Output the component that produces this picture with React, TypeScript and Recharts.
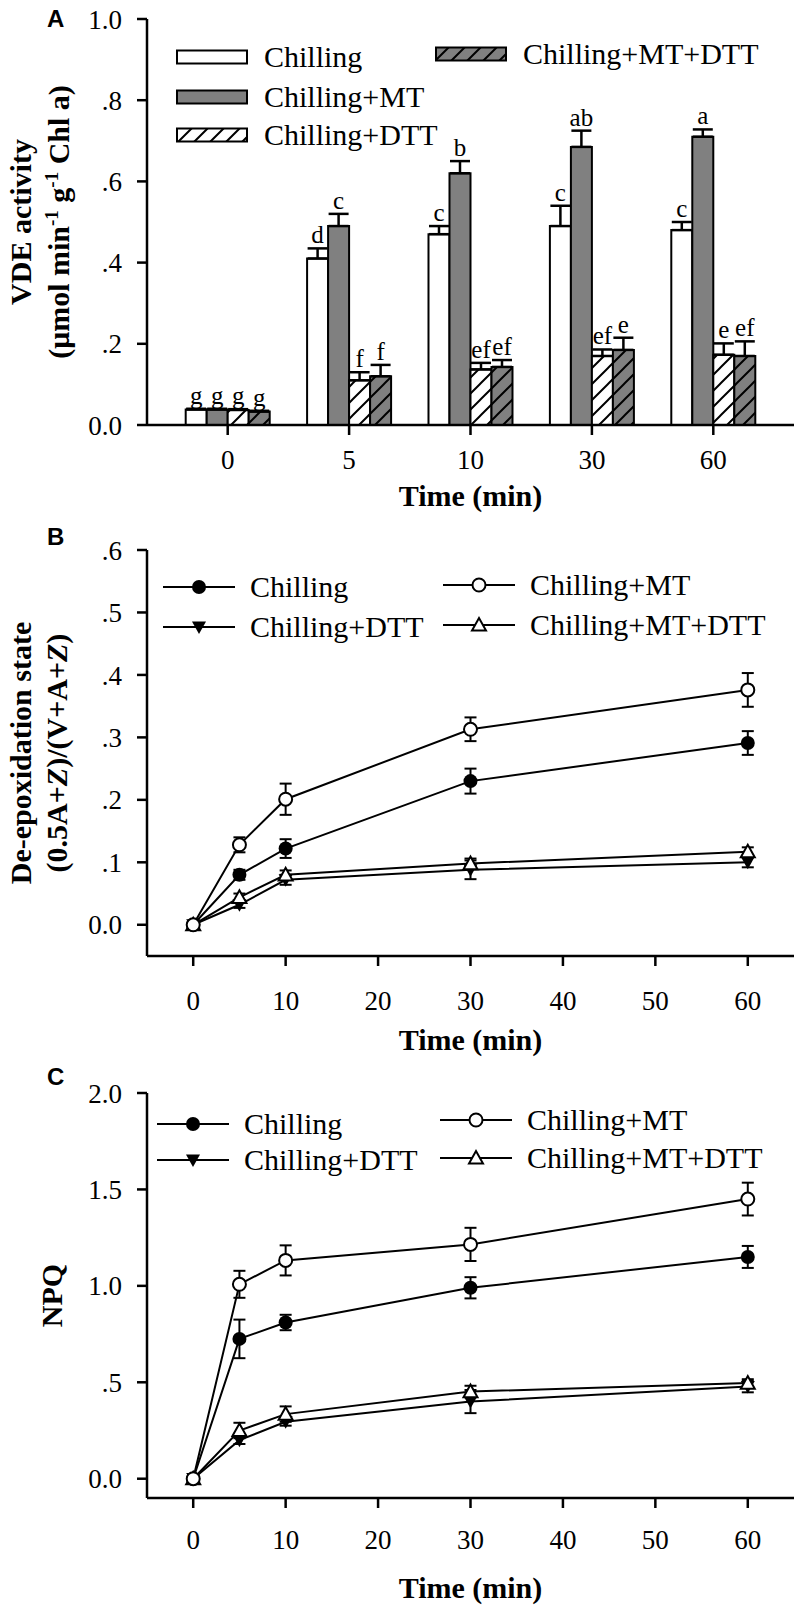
import React from "react";
import { BarChart, Bar, LineChart, Line, XAxis, YAxis, ErrorBar, LabelList } from "recharts";

const SERIF = '"Liberation Serif", "Times New Roman", Times, serif';
const SANS = '"Liberation Sans", Arial, Helvetica, sans-serif';
const GRAY = "#808080";
const AXIS = { stroke: "#000", strokeWidth: 2.5 };
const TICK = { fill: "#000", fontSize: 27, fontFamily: SERIF };

// ---- Panel A: VDE activity (bars) ----
const vdeTimes = ["0", "5", "10", "30", "60"];
const vdeChilling = [0.038, 0.41, 0.47, 0.49, 0.48];
const vdeChillingErr = [0.002, 0.025, 0.02, 0.05, 0.02];
const vdeMT = [0.038, 0.49, 0.62, 0.685, 0.71];
const vdeMTErr = [0.002, 0.03, 0.03, 0.04, 0.018];
const vdeDTT = [0.037, 0.11, 0.137, 0.17, 0.173];
const vdeDTTErr = [0.002, 0.02, 0.016, 0.016, 0.028];
const vdeMTDTT = [0.033, 0.12, 0.143, 0.185, 0.17];
const vdeMTDTTErr = [0.002, 0.028, 0.017, 0.03, 0.036];
const vdeChillingLetters = ["g", "d", "c", "c", "c"];
const vdeMTLetters = ["g", "c", "b", "ab", "a"];
const vdeDTTLetters = ["g", "f", "ef", "ef", "e"];
const vdeMTDTTLetters = ["g", "f", "ef", "e", "ef"];
const vdeTicks = [0, 0.2, 0.4, 0.6, 0.8, 1.0];

// ---- Panel B: de-epoxidation state ----
const timePoints = [0, 5, 10, 30, 60];
const desChilling = [0, 0.08, 0.122, 0.23, 0.291];
const desChillingErr = [0.003, 0.008, 0.015, 0.02, 0.019];
const desMT = [0, 0.128, 0.201, 0.313, 0.376];
const desMTErr = [0.003, 0.012, 0.025, 0.019, 0.027];
const desDTT = [0, 0.032, 0.072, 0.088, 0.1];
const desDTTErr = [0.003, 0.005, 0.008, 0.015, 0.008];
const desMTDTT = [0, 0.044, 0.08, 0.098, 0.117];
const desMTDTTErr = [0.003, 0.006, 0.007, 0.008, 0.007];
const desTicks = [0, 0.1, 0.2, 0.3, 0.4, 0.5, 0.6];

// ---- Panel C: NPQ ----
const npqChilling = [0, 0.725, 0.81, 0.99, 1.15];
const npqChillingErr = [0.01, 0.1, 0.04, 0.055, 0.057];
const npqMT = [0, 1.008, 1.132, 1.215, 1.45];
const npqMTErr = [0.01, 0.07, 0.078, 0.086, 0.085];
const npqDTT = [0, 0.2, 0.295, 0.4, 0.478];
const npqDTTErr = [0.01, 0.02, 0.02, 0.06, 0.03];
const npqMTDTT = [0, 0.25, 0.335, 0.452, 0.496];
const npqMTDTTErr = [0.01, 0.04, 0.04, 0.03, 0.02];
const npqTicks = [0, 0.5, 1, 1.5, 2];

const timeTicks = [0, 10, 20, 30, 40, 50, 60];

const vdeData = vdeTimes.map((t, i) => ({
  t,
  chilling: vdeChilling[i], chillingErr: [0, vdeChillingErr[i]], chillingTag: vdeChillingLetters[i],
  mt: vdeMT[i], mtErr: [0, vdeMTErr[i]], mtTag: vdeMTLetters[i],
  dtt: vdeDTT[i], dttErr: [0, vdeDTTErr[i]], dttTag: vdeDTTLetters[i],
  mtdtt: vdeMTDTT[i], mtdttErr: [0, vdeMTDTTErr[i]], mtdttTag: vdeMTDTTLetters[i],
}));

const desData = timePoints.map((t, i) => ({
  t,
  chilling: desChilling[i], chillingErr: desChillingErr[i],
  mt: desMT[i], mtErr: desMTErr[i],
  dtt: desDTT[i], dttErr: desDTTErr[i],
  mtdtt: desMTDTT[i], mtdttErr: desMTDTTErr[i],
}));

const npqData = timePoints.map((t, i) => ({
  t,
  chilling: npqChilling[i], chillingErr: npqChillingErr[i],
  mt: npqMT[i], mtErr: npqMTErr[i],
  dtt: npqDTT[i], dttErr: npqDTTErr[i],
  mtdtt: npqMTDTT[i], mtdttErr: npqMTDTTErr[i],
}));

const barSeries = [
  { key: "chilling", name: "Chilling", fill: "#ffffff", values: vdeChilling, errs: vdeChillingErr },
  { key: "mt", name: "Chilling+MT", fill: GRAY, values: vdeMT, errs: vdeMTErr },
  { key: "dtt", name: "Chilling+DTT", fill: "url(#hatchWhite)", values: vdeDTT, errs: vdeDTTErr },
  { key: "mtdtt", name: "Chilling+MT+DTT", fill: "url(#hatchGray)", values: vdeMTDTT, errs: vdeMTDTTErr },
];

type Shape = "circle" | "openCircle" | "downTri" | "upTri";

// drawn in this order so the circles sit on top
const lineSeries: { key: string; name: string; shape: Shape }[] = [
  { key: "dtt", name: "Chilling+DTT", shape: "downTri" },
  { key: "mtdtt", name: "Chilling+MT+DTT", shape: "upTri" },
  { key: "chilling", name: "Chilling", shape: "circle" },
  { key: "mt", name: "Chilling+MT", shape: "openCircle" },
];

// legend placement (page coordinates), keyed by series
const legendA: Record<string, { x: number; y: number }> = {
  chilling: { x: 177, y: 57 }, mt: { x: 177, y: 97 }, dtt: { x: 177, y: 135 }, mtdtt: { x: 436, y: 54 },
};
const legendB: Record<string, { x: number; y: number }> = {
  chilling: { x: 163, y: 587 }, mt: { x: 443, y: 585 }, dtt: { x: 163, y: 627 }, mtdtt: { x: 443, y: 625 },
};
const legendC: Record<string, { x: number; y: number }> = {
  chilling: { x: 157, y: 1124 }, mt: { x: 440, y: 1120 }, dtt: { x: 157, y: 1160 }, mtdtt: { x: 440, y: 1158 },
};

const fmtTick = (v: number) => {
  const s = v.toFixed(1);
  return v !== 0 && s.startsWith("0.") ? s.slice(1) : s;
};

function Marker({ cx, cy, shape, r = 7 }: { cx: number; cy: number; shape: Shape; r?: number }) {
  if (shape === "circle") return <circle cx={cx} cy={cy} r={r} fill="#000" />;
  if (shape === "openCircle") return <circle cx={cx} cy={cy} r={r - 0.5} fill="#fff" stroke="#000" strokeWidth={2} />;
  if (shape === "downTri")
    return <polygon points={`${cx - r},${cy - r * 0.8} ${cx + r},${cy - r * 0.8} ${cx},${cy + r}`} fill="#000" />;
  return (
    <polygon
      points={`${cx - r},${cy + r * 0.8} ${cx + r},${cy + r * 0.8} ${cx},${cy - r}`}
      fill="#fff" stroke="#000" strokeWidth={2} strokeLinejoin="miter"
    />
  );
}

function makeLetter(values: number[], errs: number[]) {
  return (props: any) => {
    const vb = props.viewBox && typeof props.viewBox.x === "number" ? props.viewBox : props;
    const { x, y, width, height } = vb;
    const i = props.index;
    const perUnit = values[i] ? Math.abs(height) / values[i] : 0;
    const top = Math.min(y, y + height);
    const capY = top - errs[i] * perUnit;
    return (
      <text key={`lt-${i}-${x}`} x={x + width / 2} y={capY - 5} textAnchor="middle" fontFamily={SERIF} fontSize={25} fill="#000">
        {props.value}
      </text>
    );
  };
}

function XTitle({ viewBox, below }: any) {
  const vb = viewBox || { x: 147, y: 0, width: 647 };
  return (
    <text x={vb.x + vb.width / 2} y={vb.y + below} textAnchor="middle" fontFamily={SERIF} fontWeight="bold" fontSize={30} fill="#000">
      Time (min)
    </text>
  );
}

function YTitle({ viewBox, children }: any) {
  const vb = viewBox || { y: 0, height: 400 };
  const cy = vb.y + vb.height / 2;
  return <g>{React.Children.map(children, (c: any) => React.cloneElement(c, { cy }))}</g>;
}

function RotLine({ cy = 0, x, children }: any) {
  return (
    <text transform={`translate(${x},${cy}) rotate(-90)`} textAnchor="middle" fontFamily={SERIF} fontWeight="bold" fontSize={30} fill="#000">
      {children}
    </text>
  );
}

function TimePanel({ data, top, height, plotTop, plotBottom, yDomain, yTicks, tickMargin, titleBelow, title }: any) {
  return (
    <div style={{ position: "absolute", left: 0, top, width: 800, height }}>
      <LineChart
        width={800}
        height={height}
        data={data}
        margin={{ top: plotTop, right: 6, bottom: height - plotBottom - 60, left: 87 }}
      >
        <XAxis
          dataKey="t" type="number" domain={[-5, 65]} ticks={timeTicks} height={60}
          tick={TICK} tickSize={10} tickMargin={tickMargin} tickLine={AXIS} axisLine={AXIS}
          label={<XTitle below={titleBelow} />}
        />
        <XAxis xAxisId="top" orientation="top" dataKey="t" type="number" domain={[-5, 65]} height={0} tick={false} tickLine={false} axisLine={AXIS} />
        <YAxis
          type="number" domain={yDomain} ticks={yTicks} width={60} tickFormatter={fmtTick}
          tick={TICK} tickSize={10} tickMargin={15} tickLine={AXIS} axisLine={AXIS}
          label={title}
        />
        <YAxis yAxisId="right" orientation="right" type="number" domain={yDomain} width={0} tick={false} tickLine={false} axisLine={AXIS} />
        {lineSeries.map((s) => (
          <Line
            key={s.key}
            dataKey={s.key}
            stroke="#000"
            strokeWidth={2}
            isAnimationActive={false}
            dot={(p: any) => <Marker key={`${s.key}-${p.index}`} cx={p.cx} cy={p.cy} shape={s.shape} />}
            activeDot={false}
          >
            <ErrorBar dataKey={`${s.key}Err`} direction="y" width={6} stroke="#000" strokeWidth={2} />
          </Line>
        ))}
      </LineChart>
    </div>
  );
}

function LineLegend({ pos }: { pos: Record<string, { x: number; y: number }> }) {
  return (
    <g>
      {lineSeries.map((s) => {
        const p = pos[s.key];
        return (
          <g key={s.key}>
            <line x1={p.x} y1={p.y} x2={p.x + 72} y2={p.y} stroke="#000" strokeWidth={2} />
            <Marker cx={p.x + 36} cy={p.y} shape={s.shape} />
            <text x={p.x + 87} y={p.y + 10} fontFamily={SERIF} fontSize={30} fill="#000">{s.name}</text>
          </g>
        );
      })}
    </g>
  );
}

export default function App() {
  return (
    <div style={{ position: "absolute", left: 0, top: 0, width: 800, height: 1611, background: "#fff", fontFamily: SERIF }}>
      {/* A */}
      <div style={{ position: "absolute", left: 0, top: 0, width: 800, height: 530 }}>
        <BarChart
          width={800}
          height={530}
          data={vdeData}
          margin={{ top: 19, right: 6, bottom: 55, left: 87 }}
          barCategoryGap="15.4%"
          barGap={0}
        >
          <defs>
            <pattern id="hatchWhite" patternUnits="userSpaceOnUse" width={16} height={16}>
              <rect width={16} height={16} fill="#fff" />
              <path d="M-4,4 L4,-4 M0,16 L16,0 M12,20 L20,12" stroke="#000" strokeWidth={2} />
            </pattern>
            <pattern id="hatchGray" patternUnits="userSpaceOnUse" width={16} height={16}>
              <rect width={16} height={16} fill={GRAY} />
              <path d="M-4,4 L4,-4 M0,16 L16,0 M12,20 L20,12" stroke="#000" strokeWidth={2} />
            </pattern>
          </defs>
          <XAxis
            dataKey="t" type="category" padding={{ left: 20, right: 20 }} height={50} interval={0}
            tick={TICK} tickSize={10} tickMargin={15} tickLine={AXIS} axisLine={AXIS}
            label={<XTitle below={81} />}
          />
          <XAxis xAxisId="top" orientation="top" dataKey="t" height={0} tick={false} tickLine={false} axisLine={AXIS} />
          <YAxis
            type="number" domain={[0, 1]} ticks={vdeTicks} width={60} tickFormatter={fmtTick}
            tick={TICK} tickSize={10} tickMargin={15} tickLine={AXIS} axisLine={AXIS}
            label={
              <YTitle>
                <RotLine x={31}>VDE activity</RotLine>
                <RotLine x={69}>
                  (μmol min<tspan dy={-11} fontSize={19}>-1</tspan>
                  <tspan dy={11}> g</tspan>
                  <tspan dy={-11} fontSize={19}>-1</tspan>
                  <tspan dy={11}> Chl a)</tspan>
                </RotLine>
              </YTitle>
            }
          />
          <YAxis yAxisId="right" orientation="right" type="number" domain={[0, 1]} width={0} tick={false} tickLine={false} axisLine={AXIS} />
          {barSeries.map((s) => (
            <Bar key={s.key} dataKey={s.key} fill={s.fill} stroke="#000" strokeWidth={2} isAnimationActive={false}>
              <ErrorBar dataKey={`${s.key}Err`} direction="y" width={10} stroke="#000" strokeWidth={2.5} />
              <LabelList dataKey={`${s.key}Tag`} content={makeLetter(s.values, s.errs)} />
            </Bar>
          ))}
        </BarChart>
      </div>

      {/* B */}
      <TimePanel
        data={desData} top={530} height={540} plotTop={20} plotBottom={426}
        yDomain={[-0.05, 0.6]} yTicks={desTicks} tickMargin={25} titleBelow={94}
        title={
          <YTitle>
            <RotLine x={31}>De-epoxidation state</RotLine>
            <RotLine x={67}>
              (0.5A+<tspan fontStyle="italic">Z</tspan>)/(V+A+<tspan fontStyle="italic">Z</tspan>)
            </RotLine>
          </YTitle>
        }
      />

      {/* C */}
      <TimePanel
        data={npqData} top={1070} height={541} plotTop={23} plotBottom={428}
        yDomain={[-0.1, 2]} yTicks={npqTicks} tickMargin={22} titleBelow={100}
        title={
          <YTitle>
            <RotLine x={62}>NPQ</RotLine>
          </YTitle>
        }
      />

      {/* panel letters and legends */}
      <svg width={800} height={1611} style={{ position: "absolute", left: 0, top: 0, pointerEvents: "none" }}>
        <text x={47} y={27} fontFamily={SANS} fontWeight="bold" fontSize={24}>A</text>
        <text x={47} y={545} fontFamily={SANS} fontWeight="bold" fontSize={24}>B</text>
        <text x={47} y={1085} fontFamily={SANS} fontWeight="bold" fontSize={24}>C</text>
        {barSeries.map((s) => {
          const p = legendA[s.key];
          return (
            <g key={s.key}>
              <rect x={p.x} y={p.y - 6.5} width={70} height={13} fill={s.fill} stroke="#000" strokeWidth={2} />
              <text x={p.x + 87} y={p.y + 10} fontFamily={SERIF} fontSize={30} fill="#000">{s.name}</text>
            </g>
          );
        })}
        <LineLegend pos={legendB} />
        <LineLegend pos={legendC} />
      </svg>
    </div>
  );
}
